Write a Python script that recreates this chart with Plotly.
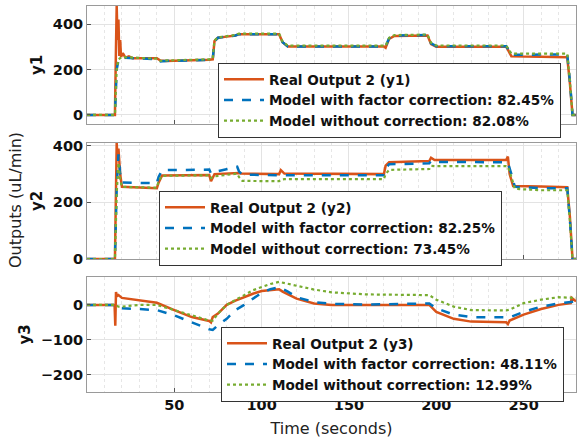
import plotly.graph_objects as go

# ---------------- data ----------------
# Panel 1 (y1)
t1_real = [0, 16, 16.6, 17.0, 17.5, 18.0, 18.5, 19.0, 19.5, 20.5, 22, 24, 26, 40, 42, 45, 70, 72, 73, 75, 80, 85, 87, 110, 112, 115, 170, 171, 173, 176, 195, 197, 200, 240, 241, 243, 260, 275, 276.5, 278, 280]
y1_real = [0, 0, 300, 480, 330, 420, 260, 330, 255, 272, 252, 258, 250, 250, 240, 238, 243, 245, 325, 340, 345, 350, 356, 356, 320, 302, 302, 296, 335, 348, 350, 312, 300, 300, 288, 258, 256, 254, 140, 0, 0]
t1_model = [0, 16, 17, 18, 20, 40, 42, 45, 70, 72, 73, 75, 80, 85, 87, 110, 112, 115, 170, 171, 173, 176, 195, 197, 200, 240, 241, 243, 260, 275, 276.5, 278, 280]
y1_fac = [0, 0, 200, 240, 252, 246, 236, 238, 242, 245, 325, 340, 345, 350, 356, 356, 320, 302, 302, 302, 338, 350, 352, 315, 303, 303, 292, 265, 266, 266, 150, 0, 0]
y1_nof = [0, 0, 200, 245, 255, 248, 238, 240, 245, 248, 328, 342, 347, 352, 358, 358, 322, 305, 305, 305, 340, 352, 354, 318, 306, 306, 295, 270, 270, 270, 150, 0, 0]

# Panel 2 (y2)
t2 = [0, 16, 17, 17.5, 18, 19, 20, 40, 41, 43, 70, 71, 73, 86, 87, 88, 110, 111, 113, 170, 171, 173, 196, 197, 199, 240, 241, 242, 244, 260, 275, 276.5, 278, 280]
y2_real = [0, 0, 410, 350, 390, 300, 255, 250, 270, 295, 297, 275, 300, 306, 304, 302, 300, 314, 302, 300, 330, 342, 346, 358, 350, 350, 362, 300, 258, 256, 254, 150, 0, 0]
t2_model = [0, 16, 17, 18, 19, 20, 40, 41, 43, 70, 71, 73, 86, 87, 89, 110, 111, 113, 170, 171, 173, 196, 197, 199, 240, 241, 243, 245, 260, 275, 276.5, 278, 280]
y2_fac = [0, 0, 250, 370, 300, 270, 268, 290, 314, 316, 302, 308, 326, 310, 298, 296, 298, 296, 296, 320, 335, 338, 347, 343, 342, 340, 300, 255, 250, 250, 140, 0, 0]
y2_nof = [0, 0, 230, 340, 280, 255, 252, 275, 294, 296, 286, 292, 302, 290, 276, 275, 280, 282, 282, 300, 315, 318, 329, 328, 328, 326, 290, 248, 243, 243, 135, 0, 0]

# Panel 3 (y3)
t3_real = [0, 15.8, 16.2, 16.6, 17.2, 18, 20, 30, 40, 50, 60, 70, 71, 72, 75, 80, 85, 95, 100, 110, 112, 120, 130, 140, 170, 196, 200, 210, 220, 240, 241, 242, 250, 260, 270, 277, 277.5, 280]
y3_real = [0, 0, -60, 37, 25, 28, 20, 12, 6, -15, -35, -46, -50, -35, -25, 0, 12, 32, 40, 45, 38, 18, 4, 0, -1, 0, -20, -40, -48, -50, -55, -45, -28, -12, 0, 5, 20, 10]
t3_model = [0, 16, 18, 20, 30, 40, 50, 55, 60, 70, 72, 75, 80, 85, 90, 95, 100, 105, 110, 115, 120, 130, 140, 160, 196, 200, 210, 220, 240, 242, 250, 260, 270, 280]
y3_fac = [0, 0, -8, -10, -12, -15, -30, -40, -52, -70, -72, -58, -40, -15, 0, 18, 35, 45, 51, 38, 22, 8, 3, 1, 4, -10, -28, -35, -37, -36, -20, -5, 4, 10]
y3_nof = [0, 0, -5, -5, 0, 0, -15, -22, -30, -45, -45, -25, 0, 15, 28, 42, 52, 60, 66, 60, 55, 44, 36, 30, 28, 15, -5, -15, -16, -14, 5, 15, 22, 20]

names1 = ["Real Output 2 (y1)", "Model with factor correction: 82.45%", "Model without correction: 82.08%"]
names2 = ["Real Output 2 (y2)", "Model with factor correction: 82.25%", "Model without correction: 73.45%"]
names3 = ["Real Output 2 (y3)", "Model with factor correction: 48.11%", "Model without correction: 12.99%"]

x_ticks = [50, 100, 150, 200, 250]
y1_ticks = [0, 200, 400]
y2_ticks = [0, 200, 400]
y3_ticks = [-200, -100, 0]

# ---------------- styling ----------------
ORANGE = "#D95319"
BLUE = "#0072BD"
GREEN = "#77AC30"
FONT = "DejaVu Sans"

fig = go.Figure()

panels = [
    ("x", "y", "legend", (t1_real, y1_real), (t1_model, y1_fac), (t1_model, y1_nof), names1),
    ("x2", "y2", "legend2", (t2, y2_real), (t2_model, y2_fac), (t2_model, y2_nof), names2),
    ("x3", "y3", "legend3", (t3_real, y3_real), (t3_model, y3_fac), (t3_model, y3_nof), names3),
]
for xa, ya, lg, real, fac, nof, names in panels:
    fig.add_trace(go.Scatter(x=real[0], y=real[1], mode="lines", name=names[0],
                             line=dict(color=ORANGE, width=2.5), xaxis=xa, yaxis=ya, legend=lg))
    fig.add_trace(go.Scatter(x=fac[0], y=fac[1], mode="lines", name=names[1],
                             line=dict(color=BLUE, width=2.5, dash="dash"), xaxis=xa, yaxis=ya, legend=lg))
    fig.add_trace(go.Scatter(x=nof[0], y=nof[1], mode="lines", name=names[2],
                             line=dict(color=GREEN, width=2.2, dash="dot"), xaxis=xa, yaxis=ya, legend=lg))

L, R, T, B = 87, 1, 6, 50
plot_w = 577 - L - R
plot_h = 442 - T - B


def dom(top_px, bot_px):
    return [(442 - B - bot_px) / plot_h, (442 - B - top_px) / plot_h]


common_x = dict(range=[0, 280], tickvals=x_ticks, showgrid=True, gridcolor="#e3e3e3", gridwidth=1,
                minor=dict(dtick=10, tick0=0, showgrid=True, gridcolor="#e6e6e6", griddash="dot", ticks=""),
                showline=True, mirror=True, linecolor="#9a9a9a", linewidth=1,
                ticks="inside", ticklen=4, tickcolor="#555", zeroline=False, automargin=False,
                tickfont=dict(family=FONT, size=14.5, color="#111", weight="bold"))
common_y = dict(showgrid=True, gridcolor="#e3e3e3", gridwidth=1,
                showline=True, mirror=True, linecolor="#9a9a9a", linewidth=1,
                ticks="inside", ticklen=4, tickcolor="#555", zeroline=False, automargin=False,
                tickfont=dict(family=FONT, size=14.5, color="#111", weight="bold"))
ytitle_font = dict(family=FONT, size=15, color="#111", weight="bold")

fig.update_layout(
    width=577, height=442,
    margin=dict(l=L, r=R, t=T, b=B, autoexpand=False),
    paper_bgcolor="white", plot_bgcolor="white",
    font=dict(family=FONT, color="#111"),
    xaxis=dict(common_x, domain=[0, 1], anchor="y", showticklabels=False),
    xaxis2=dict(common_x, domain=[0, 1], anchor="y2", showticklabels=False, matches="x"),
    xaxis3=dict(common_x, domain=[0, 1], anchor="y3", matches="x",
                title=dict(text="Time (seconds)", font=dict(family=FONT, size=16, color="#222"), standoff=10)),
    yaxis=dict(common_y, domain=dom(6, 124), anchor="x", range=[-40, 480], tickvals=y1_ticks,
               title=dict(text="y1", font=ytitle_font, standoff=6)),
    yaxis2=dict(common_y, domain=dom(143, 259), anchor="x2", range=[0, 410], tickvals=y2_ticks,
                title=dict(text="y2", font=ytitle_font, standoff=6)),
    yaxis3=dict(common_y, domain=dom(277, 392), anchor="x3", range=[-250, 80], tickvals=y3_ticks,
                title=dict(text="y3", font=ytitle_font, standoff=6)),
    showlegend=True,
)

leg_common = dict(bgcolor="white", bordercolor="#333", borderwidth=1,
                  font=dict(family=FONT, size=13.6, color="#111", weight="bold"),
                  xanchor="left", yanchor="top", itemwidth=40, tracegroupgap=0)
fig.update_layout(
    legend=dict(leg_common, x=(218 - L) / plot_w, y=(442 - B - 63) / plot_h),
    legend2=dict(leg_common, x=(159 - L) / plot_w, y=(442 - B - 191) / plot_h),
    legend3=dict(leg_common, x=(221 - L) / plot_w, y=(442 - B - 327) / plot_h),
)

fig.add_annotation(text="Outputs (uL/min)", textangle=-90, xref="paper", yref="paper",
                   x=(15 - L) / plot_w, y=(442 - B - 200) / plot_h, xanchor="center", yanchor="middle",
                   showarrow=False, font=dict(family=FONT, size=16, color="#222"))

fig.write_html("out.html", config={"displayModeBar": False},
               post_script="document.body.style.margin='0';")
